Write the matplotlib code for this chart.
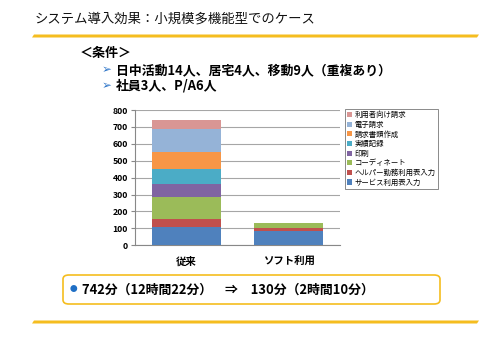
import numpy as np
import matplotlib
matplotlib.use("Agg")
import matplotlib.pyplot as plt
from matplotlib.patches import FancyBboxPatch, Polygon

plt.rcParams['font.family'] = ['Noto Sans CJK JP', 'DejaVu Sans']

categories = ["従来", "ソフト利用"]
series_names = ["サービス利用表入力", "ヘルパー勤務利用表入力", "コーディネート", "印刷",
                "実績記録", "請求書類作成", "電子請求", "利用者向け請求"]
series_values = [
    [108, 86],
    [48, 16],
    [128, 28],
    [78, 0],
    [89, 0],
    [101, 0],
    [138, 0],
    [52, 0],
]
colors = ["#4F81BD", "#C0504D", "#9BBB59", "#8064A2",
          "#4BACC6", "#F79646", "#95B3D7", "#D99694"]
y_ticks = [0, 100, 200, 300, 400, 500, 600, 700, 800]

W, H = 489, 342
fig = plt.figure(figsize=(W / 100, H / 100), dpi=100)


def fx(px):
    return px / W


def fy(py):
    return 1 - py / H


# title and yellow rules
fig.text(fx(35), fy(18), "システム導入効果：小規模多機能型でのケース", fontsize=9.6,
         va='center', ha='left', color='#111111')


def rule(y0, y1):
    pts = [(fx(32), fy(y1)), (fx(477), fy(y1)), (fx(479), fy(y0)), (fx(34), fy(y0))]
    fig.patches.append(Polygon(pts, closed=True, transform=fig.transFigure,
                               facecolor='#F5BD1F', edgecolor='none'))


rule(34.5, 37.5)
rule(320.5, 323.5)

# conditions
fig.text(fx(80), fy(53), "＜条件＞", fontsize=9.4, va='center', ha='left', weight='bold')
fig.text(fx(102), fy(70), "➢", fontsize=8.5, va='center', ha='left', color='#2E75C8')
fig.text(fx(116), fy(70), "日中活動14人、居宅4人、移動9人（重複あり）", fontsize=9.3,
         va='center', ha='left', weight='bold')
fig.text(fx(102), fy(86), "➢", fontsize=8.5, va='center', ha='left', color='#2E75C8')
fig.text(fx(116), fy(86), "社員3人、P/A6人", fontsize=9.3,
         va='center', ha='left', weight='bold')

# chart
ax = fig.add_axes([fx(135), fy(245.3), fx(340) - fx(135), fy(110) - fy(245.3)])
x = np.arange(len(categories))
bottom = np.zeros(len(categories))
for name, vals, c in zip(series_names, series_values, colors):
    ax.bar(x, vals, width=0.67, bottom=bottom, color=c, label=name, zorder=3)
    bottom += np.array(vals)

ax.set_xlim(-0.5, 1.5)
ax.set_ylim(0, 800)
ax.set_yticks(y_ticks)
ax.set_xticks(x)
ax.set_xticklabels(categories, fontsize=7.5, weight='bold')
ax.tick_params(axis='y', labelsize=6.3, length=3, color='#888888', pad=2)
ax.tick_params(axis='x', length=0, pad=8)
for lab in ax.get_yticklabels():
    lab.set_fontweight('bold')
ax.grid(axis='y', color='#A6A6A6', linewidth=0.8, zorder=0)
for s in ['top', 'right']:
    ax.spines[s].set_visible(False)
ax.spines['left'].set_color('#888888')
ax.spines['bottom'].set_color('#888888')

handles, labels = ax.get_legend_handles_labels()
leg = fig.legend(handles[::-1], labels[::-1], loc='upper left',
                 bbox_to_anchor=(fx(345), fy(109)), fontsize=5.3, frameon=True,
                 fancybox=False, edgecolor='#555555', handlelength=0.7,
                 handleheight=0.7, handletextpad=0.3, labelspacing=0.22,
                 borderpad=0.3, borderaxespad=0)
leg.get_frame().set_linewidth(0.6)

# summary box
box = FancyBboxPatch((fx(63), fy(304)), fx(440) - fx(63), fy(275) - fy(304),
                     boxstyle="round,pad=0,rounding_size=0.012",
                     transform=fig.transFigure, facecolor='white',
                     edgecolor='#F5BD1F', linewidth=1.2)
fig.patches.append(box)
fig.text(fx(70), fy(289.5), "●", fontsize=5.5, va='center', ha='left', color='#1F6FC5')
fig.text(fx(82), fy(289.5), "742分（12時間22分）　⇒　130分（2時間10分）", fontsize=9.3,
         va='center', ha='left', weight='bold')

fig.savefig("out.png", dpi=100, facecolor='white')
